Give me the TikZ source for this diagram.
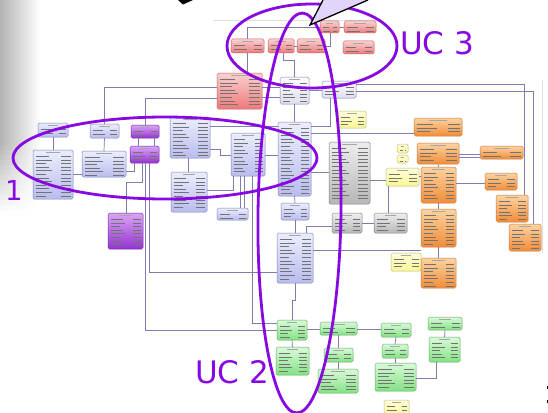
\documentclass[tikz,border=0pt]{standalone}
\usepackage{fontspec}
\newfontfamily\lab{DejaVu Sans}
\usetikzlibrary{calc}
\definecolor{redL}{RGB}{252,208,208}\definecolor{redD}{RGB}{236,122,122}\definecolor{redE}{RGB}{200,95,95}
\definecolor{bluL}{RGB}{236,238,253}\definecolor{bluD}{RGB}{184,188,238}\definecolor{bluE}{RGB}{128,128,188}
\definecolor{purL}{RGB}{218,165,246}\definecolor{purD}{RGB}{150,50,212}\definecolor{purE}{RGB}{115,40,165}
\definecolor{gryL}{RGB}{238,238,238}\definecolor{gryD}{RGB}{182,182,182}\definecolor{gryE}{RGB}{128,128,128}
\definecolor{yelL}{RGB}{255,255,218}\definecolor{yelD}{RGB}{248,246,150}\definecolor{yelE}{RGB}{190,188,120}
\definecolor{ornL}{RGB}{253,212,162}\definecolor{ornD}{RGB}{241,140,55}\definecolor{ornE}{RGB}{200,120,60}
\definecolor{grnL}{RGB}{218,250,218}\definecolor{grnD}{RGB}{130,226,130}\definecolor{grnE}{RGB}{100,170,100}
\definecolor{whtL}{RGB}{252,252,255}\definecolor{whtD}{RGB}{222,222,238}
\definecolor{conn}{RGB}{125,125,178}
\definecolor{uc}{RGB}{136,8,226}
\definecolor{callout}{RGB}{226,212,250}
\tikzset{
  erb/.style={rounded corners=1.6pt, inner sep=0pt, outer sep=0pt, line width=0.5pt},
  redb/.style={top color=redL, bottom color=redD, draw=redE},
  blub/.style={top color=bluL, bottom color=bluD, draw=bluE},
  purb/.style={top color=purL, bottom color=purD, draw=purE},
  gryb/.style={top color=gryL, bottom color=gryD, draw=gryE},
  yelb/.style={top color=yelL, bottom color=yelD, draw=yelE},
  ornb/.style={top color=ornL, bottom color=ornD, draw=ornE},
  grnb/.style={top color=grnL, bottom color=grnD, draw=grnE},
  whtb/.style={top color=whtL, bottom color=whtD, draw=bluE},
  rowl/.style={draw=black!55, line width=0.9pt},
  titl/.style={draw=black!35, line width=0.6pt},
  cn/.style={draw=conn, line width=0.7pt},
  ucell/.style={draw=uc, line width=2.8pt},
  uctext/.style={text=uc, inner sep=0pt, font=\lab\fontsize{31}{31}\selectfont},
}
\newcommand{\erbox}[6]{%
  \pgfmathsetmacro{\bxa}{#2}\pgfmathsetmacro{\bya}{#3}%
  \pgfmathsetmacro{\bxb}{#4}\pgfmathsetmacro{\byb}{#5}%
  \pgfmathsetmacro{\bw}{\bxb-\bxa}\pgfmathsetmacro{\bh}{\byb-\bya}%
  \node[erb, #6, minimum width=\bw pt, minimum height=\bh pt] (#1) at ({(\bxa+\bxb)/2},{(\bya+\byb)/2}) {};
  \pgfmathtruncatemacro{\nr}{max(1,floor((\bh-8)/3.6)+1)}%
  \foreach \i in {1,...,\nr}{%
    \pgfmathsetmacro{\ry}{\bya+6.5+(\i-1)*3.6}%
    \draw[rowl] (\bxa+2.5,\ry) -- ({\bxa+2.5+0.42*\bw*(0.65+0.35*mod(\i,3)/2)},\ry);
    \draw[rowl] ({\bxb-0.3*\bw},\ry) -- (\bxb-2.5,\ry);
  }%
  \draw[titl] ({(\bxa+\bxb)/2-0.18*\bw},\bya+2.6) -- ({(\bxa+\bxb)/2+0.18*\bw},\bya+2.6);
}
\begin{document}
\begin{tikzpicture}[x=1pt,y=-1pt]
\useasboundingbox (0,0) rectangle (548,412);
\fill[white] (0,0) rectangle (548,412);
% left grey gradient
\foreach \i in {0,...,42}{%
  \pgfmathsetmacro{\yy}{\i*5}%
  \pgfmathsetmacro{\kk}{\yy<140 ? 30 : max(0,30*(1-(\yy-140)/72))}%
  \shade[left color=black!\kk, right color=white] (0,\yy) rectangle (40,\yy+5.2);
}
% faint frame lines
\draw[black!12, line width=0.5pt] (213,20) -- (378,20);
\draw[black!12, line width=0.5pt] (542,80) -- (542,253);
% ---------- tables ----------
\erbox{ra}{231}{39}{264}{53}{redb}
\erbox{rb}{268}{39}{294}{53}{redb}
\erbox{rc}{297}{39}{325}{53}{redb}
\erbox{rd}{320}{21}{339}{33}{redb}
\erbox{re}{344}{21}{376}{33}{redb}
\erbox{rf}{343}{41}{374}{54}{redb}
\erbox{bigred}{217}{73}{262}{109}{redb}
\erbox{wbox}{280}{77}{309}{104}{whtb}
\erbox{lbox}{322}{81}{356}{98}{whtb}
\erbox{sb1}{38}{123}{68}{137}{blub}
\erbox{sb2}{90}{124}{119}{138}{blub}
\erbox{pu1}{131}{125}{159}{138}{purb}
\erbox{bigl}{33}{150}{73}{199}{blub}
\erbox{bm}{82}{151}{126}{177}{blub}
\erbox{pu2}{130}{146}{159}{163}{purb}
\erbox{bt}{170}{117}{210}{158}{blub}
\erbox{bb}{171}{172}{207}{212}{blub}
\erbox{bc}{231}{133}{265}{176}{blub}
\erbox{bigc}{278}{122}{311}{196}{blub}
\erbox{pu3}{108}{213}{143}{249}{purb}
\erbox{sbm}{217}{208}{248}{220}{blub}
\erbox{sbc}{281}{203}{309}{220}{blub}
\erbox{bigc2}{277}{233}{313}{283}{blub}
\erbox{gbig}{329}{142}{370}{204}{gryb}
\erbox{g2}{332}{213}{362}{233}{gryb}
\erbox{g3}{374}{213}{407}{233}{gryb}
\erbox{y1}{338}{111}{366}{128}{yelb}
\erbox{y2}{397}{144}{408}{153}{yelb}
\erbox{y3}{397}{155}{408}{163}{yelb}
\erbox{y4}{386}{168}{419}{186}{yelb}
\erbox{y5}{391}{253}{421}{271}{yelb}
\erbox{y6}{384}{400}{409}{416}{yelb}
\erbox{o1}{414}{118}{462}{136}{ornb}
\erbox{o2}{417}{143}{459}{164}{ornb}
\erbox{o3}{480}{146}{523}{159}{ornb}
\erbox{o4}{421}{167}{456}{203}{ornb}
\erbox{o5}{485}{173}{517}{190}{ornb}
\erbox{o6}{496}{195}{528}{222}{ornb}
\erbox{o7}{509}{224}{541}{251}{ornb}
\erbox{o8}{421}{209}{456}{247}{ornb}
\erbox{o9}{421}{258}{456}{288}{ornb}
\erbox{gr1}{277}{320}{307}{340}{grnb}
\erbox{gr2}{320}{322}{357}{335}{grnb}
\erbox{gr3}{381}{323}{411}{337}{grnb}
\erbox{gr4}{428}{317}{462}{330}{grnb}
\erbox{gr5}{276}{347}{309}{375}{grnb}
\erbox{gr6}{324}{348}{353}{362}{grnb}
\erbox{gr7}{318}{369}{358}{393}{grnb}
\erbox{gr8}{382}{344}{408}{358}{grnb}
\erbox{gr9}{429}{337}{460}{362}{grnb}
\erbox{gr10}{375}{363}{416}{391}{grnb}
% ---------- connectors ----------
\draw[cn] (sb2.north) |- (bigred.west |- 0,87);
\draw[cn] (bigred.east |- 0,87) -- (wbox.west |- 0,87);
\draw[cn] (bigred.east |- 0,97) -- (wbox.west |- 0,97);
\draw[cn] (pu1.north) |- (bigred.west |- 0,98);
\draw[cn] (ra.south) -- (bigred.north -| ra.south);
\draw[cn] (ra.north) |- (rd.west);
\draw[cn] (rb.east) -- (rc.west);
\draw[cn] (rb.south -| 283,0) -- ++(0,7) -| (wbox.north);
\draw[cn] (rc.east) -| (rd.south -| 330,0);
\draw[cn] (rd.east) -- (re.west);
\draw[cn] (wbox.south) -- (bigc.north);
\draw[cn] (wbox.east |- 0,90) -- (lbox.west |- 0,90);
\draw[cn] (lbox.east |- 0,84) -| (o6.north -| 524,0);
\draw[cn] (lbox.east |- 0,91) -| (o7.north -| 533,0);
\draw[cn] (lbox.south -| 330,0) |- (bigc.east |- 0,126);
\draw[cn] (bigc.east |- 0,133) -- (o1.west |- 0,133);
\draw[cn] (bigc.east |- 0,172) -- (gbig.west |- 0,172);
\draw[cn] (gbig.east |- 0,180) -- (y4.west |- 0,180);
\draw[cn] (y4.south -| 388,0) -- (g3.north -| 388,0);
\draw[cn] (y4.east |- 0,176) -- (o4.west |- 0,176);
\draw[cn] (o2.east |- 0,154.5) -- (o3.west |- 0,154.5);
\draw[cn] (o2.east |- 0,157) -- (o3.west |- 0,157);
\draw[cn] (o4.east |- 0,183) -- (o5.west |- 0,183);
\draw[cn] (o2.south) -- (o4.north);
\draw[cn] (o4.south) -- (o8.north);
\draw[cn] (o8.south) -- (o9.north);
\draw[cn] (o8.west |- 0,250) -- (bigc2.east |- 0,250);
\draw[cn] (g2.west |- 0,226) -| (bigc2.north -| 306,0);
\draw[cn] (g2.east |- 0,223) -- (g3.west |- 0,223);
\draw[cn] (bigc.south) -- (sbc.north);
\draw[cn] (sbc.south) -- (bigc2.north);
\draw[cn] (sb1.south) -- (bigl.north);
\draw[cn] (sb2.south) -- (bm.north);
\draw[cn] (bigl.east |- 0,174) -- (bm.west |- 0,174);
\draw[cn] (bm.east |- 0,171) -| (pu2.south -| 134,0);
\draw[cn] (pu1.south -| 138,0) -- (pu2.north -| 138,0);
\draw[cn] (pu1.south -| 154,0) -- (pu2.north -| 154,0);
\draw[cn] (pu2.south -| 142,0) -- ++(0,19) -| (pu3.north -| 126,0);
\draw[cn] (pu2.south -| 149,0) |- (bigc2.west |- 0,272);
\draw[cn] (pu2.south -| 145,0) |- (gr1.west |- 0,330);
\draw[cn] (bt.east |- 0,126) -- (bigc.west |- 0,126);
\draw[cn] (bt.south -| 188,0) -- (bb.north -| 188,0);
\draw[cn] (bt.east |- 0,149) -- ++(10,0) |- (bc.west |- 0,155);
\draw[cn] (bc.east |- 0,155) -- (bigc.west |- 0,155);
\draw[cn] (bc.south -| 233,0) |- (bb.east |- 0,190);
\draw[cn] (bc.south -| 240,0) -- (sbm.north -| 240,0);
\draw[cn] (bc.south -| 244,0) -- (sbm.north -| 244,0);
\draw[cn] (bc.south -| 252,0) |- (gr1.west |- 0,323);
\draw[cn] (bigc2.south) -- ++(0,17) -| (gr1.north -| 292,0);
\draw[cn] (gr1.east |- 0,329) -- (gr2.west |- 0,329);
\draw[cn] (gr2.east |- 0,329) -- (gr3.west |- 0,329);
\draw[cn] (gr1.south) -- (gr5.north);
\draw[cn] (gr2.south -| 338,0) -- (gr6.north -| 338,0);
\draw[cn] (gr6.south) -- (gr7.north -| gr6.south);
\draw[cn] (gr3.south) -- (gr8.north);
\draw[cn] (gr8.south) -- (gr10.north -| gr8.south);
\draw[cn] (gr4.south) -- (gr9.north);
\draw[cn] (gr9.south -| 436,0) |- (gr10.east |- 0,378);
\draw[cn] (y5.east |- 0,262) -- (o9.west |- 0,262);
% ---------- use-case ellipses ----------
\draw[ucell] (312,46) ellipse [x radius=85, y radius=42];
\draw[ucell] (299.5,213) ellipse [x radius=41.5, y radius=200, rotate=-0.8];
\draw[ucell] (165,158) ellipse [x radius=152, y radius=41];
\node[uctext, anchor=base west] (uc3) at (400,55) {UC 3};
\node[uctext, anchor=base west] (uc2) at (195,383) {UC 2};
\node[text=uc, inner sep=0pt, font=\lab\fontsize{27.5}{27.5}\selectfont, anchor=base west] (one) at (5,200) {1};
% ---------- callout and top mark ----------
\fill[callout] (323,0) -- (310,25) -- (368,0) -- cycle;
\draw[black, line width=1.3pt] (323,0) -- (310,25) -- (368,0);
\fill[black] (178,0) -- (193,0) -- (183,4.5) -- cycle;
\fill[black] (546.5,386) rectangle (548,389);
\fill[black] (546.5,399.5) rectangle (548,402.5);
\end{tikzpicture}
\end{document}
